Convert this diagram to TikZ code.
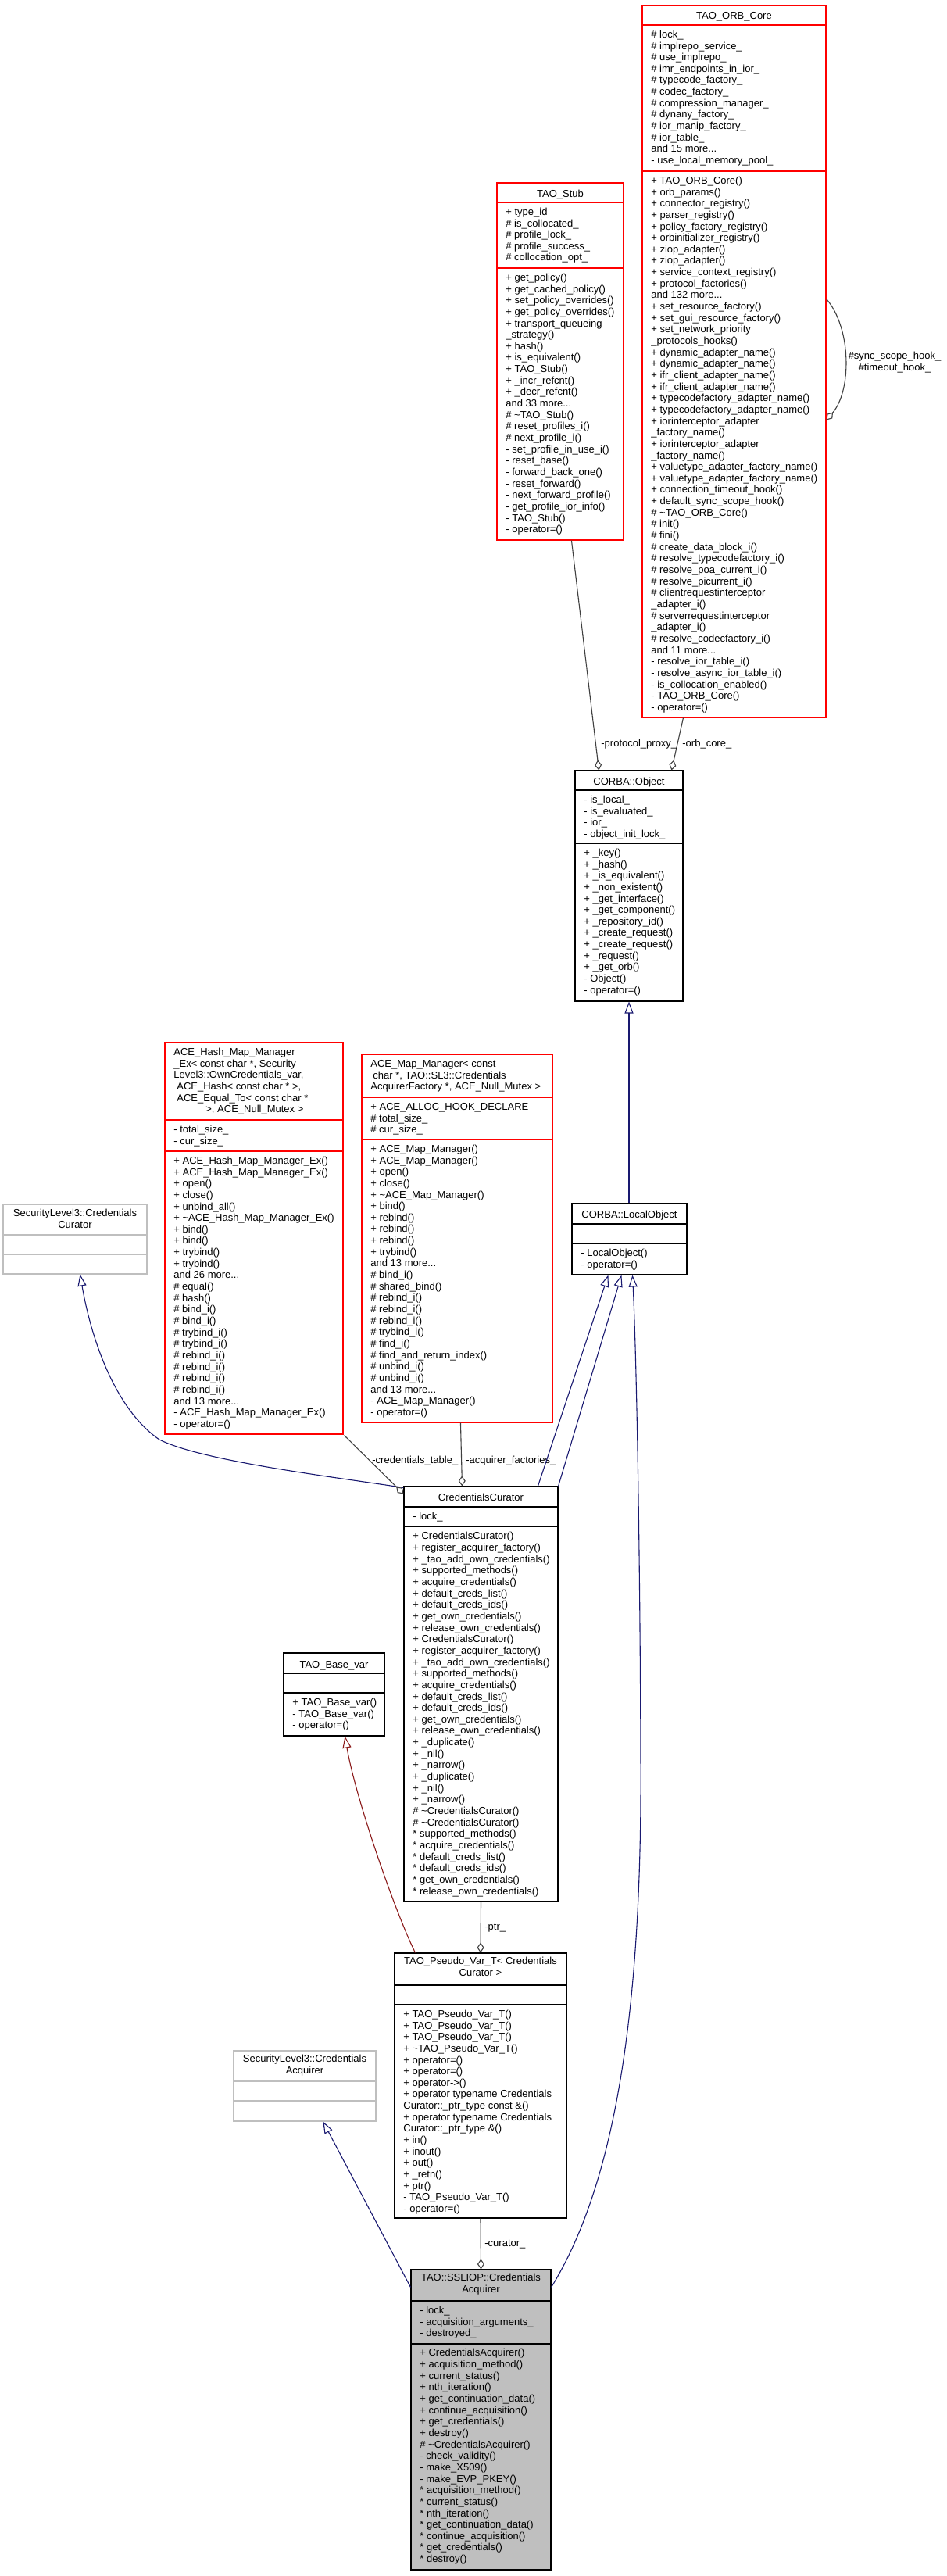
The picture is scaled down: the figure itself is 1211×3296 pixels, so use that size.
\documentclass[tikz,border=0pt]{standalone}
\usepackage{fontspec}
\setmainfont{Liberation Sans}
\usetikzlibrary{arrows.meta,calc,fit}
\definecolor{dxnavy}{HTML}{191970}
\definecolor{dxedge}{HTML}{404040}
\definecolor{dxdred}{HTML}{8B1A1A}
\definecolor{dxgrey}{HTML}{BFBFBF}
\newcommand\dfont{\fontsize{6.5}{7.325}\selectfont}
\newcommand\dxtext[4]{\node[mtxt] (#1) at (#2,{#3-10.4}) {\rule{0pt}{5.2pt}#4};}
\newcommand\dxtitle[4]{\node[ttl] (#1) at (#2,{#3-10.4}) {\rule{0pt}{5.2pt}#4};}
\newcommand\dxsep[3]{\draw[line width=0.55pt, draw=#3] (#1.west |- 0,#2) -- (#1.east |- 0,#2);}
\begin{document}
\begin{tikzpicture}[x=0.5pt,y=-0.5pt,
  cls/.style={draw, line width=0.55pt, inner sep=0pt, fill=white},
  mtxt/.style={inner sep=0pt, anchor=north west, align=left, font=\dfont},
  ttl/.style={inner sep=0pt, anchor=north, align=center, font=\dfont},
  lbl/.style={inner sep=0pt, anchor=base west, font=\dfont},
  inh/.style={draw=dxnavy, line width=0.55pt, -{Triangle[open, length=7.5pt, width=5.5pt]}},
  inhred/.style={draw=dxdred, line width=0.55pt, -{Triangle[open, length=7.5pt, width=5.5pt]}},
  use/.style={draw=dxedge, line width=0.55pt, -{Diamond[open, length=6.5pt, width=4.5pt]}}]
\fill[white] (0,0) rectangle (1211,3296);
\useasboundingbox (0,0) rectangle (1211,3296);

% ---------------- TAO_ORB_Core
\node[cls, draw=red, fit={(822,7)(1057,918)}] (orb) {};
\dxsep{orb}{32}{red}
\dxsep{orb}{219}{red}
\dxtitle{orbT}{939.5}{24}{TAO\_ORB\_Core}
\dxtext{orbA}{833}{48}{\# lock\_\\
\# implrepo\_service\_\\
\# use\_implrepo\_\\
\# imr\_endpoints\_in\_ior\_\\
\# typecode\_factory\_\\
\# codec\_factory\_\\
\# compression\_manager\_\\
\# dynany\_factory\_\\
\# ior\_manip\_factory\_\\
\# ior\_table\_\\
and 15 more...\\
- use\_local\_memory\_pool\_}
\dxtext{orbO}{833}{235}{+ TAO\_ORB\_Core()\\
+ orb\_params()\\
+ connector\_registry()\\
+ parser\_registry()\\
+ policy\_factory\_registry()\\
+ orbinitializer\_registry()\\
+ ziop\_adapter()\\
+ ziop\_adapter()\\
+ service\_context\_registry()\\
+ protocol\_factories()\\
and 132 more...\\
+ set\_resource\_factory()\\
+ set\_gui\_resource\_factory()\\
+ set\_network\_priority\\
\_protocols\_hooks()\\
+ dynamic\_adapter\_name()\\
+ dynamic\_adapter\_name()\\
+ ifr\_client\_adapter\_name()\\
+ ifr\_client\_adapter\_name()\\
+ typecodefactory\_adapter\_name()\\
+ typecodefactory\_adapter\_name()\\
+ iorinterceptor\_adapter\\
\_factory\_name()\\
+ iorinterceptor\_adapter\\
\_factory\_name()\\
+ valuetype\_adapter\_factory\_name()\\
+ valuetype\_adapter\_factory\_name()\\
+ connection\_timeout\_hook()\\
+ default\_sync\_scope\_hook()\\
\# \textasciitilde TAO\_ORB\_Core()\\
\# init()\\
\# fini()\\
\# create\_data\_block\_i()\\
\# resolve\_typecodefactory\_i()\\
\# resolve\_poa\_current\_i()\\
\# resolve\_picurrent\_i()\\
\# clientrequestinterceptor\\
\_adapter\_i()\\
\# serverrequestinterceptor\\
\_adapter\_i()\\
\# resolve\_codecfactory\_i()\\
and 11 more...\\
- resolve\_ior\_table\_i()\\
- resolve\_async\_ior\_table\_i()\\
- is\_collocation\_enabled()\\
- TAO\_ORB\_Core()\\
- operator=()}

% ---------------- TAO_Stub
\node[cls, draw=red, fit={(636,234)(798,691)}] (stub) {};
\dxsep{stub}{259}{red}
\dxsep{stub}{343}{red}
\dxtitle{stubT}{717}{252}{TAO\_Stub}
\dxtext{stubA}{647}{275}{+ type\_id\\
\# is\_collocated\_\\
\# profile\_lock\_\\
\# profile\_success\_\\
\# collocation\_opt\_}
\dxtext{stubO}{647}{359}{+ get\_policy()\\
+ get\_cached\_policy()\\
+ set\_policy\_overrides()\\
+ get\_policy\_overrides()\\
+ transport\_queueing\\
\_strategy()\\
+ hash()\\
+ is\_equivalent()\\
+ TAO\_Stub()\\
+ \_incr\_refcnt()\\
+ \_decr\_refcnt()\\
and 33 more...\\
\# \textasciitilde TAO\_Stub()\\
\# reset\_profiles\_i()\\
\# next\_profile\_i()\\
- set\_profile\_in\_use\_i()\\
- reset\_base()\\
- forward\_back\_one()\\
- reset\_forward()\\
- next\_forward\_profile()\\
- get\_profile\_ior\_info()\\
- TAO\_Stub()\\
- operator=()}

% ---------------- CORBA::Object
\node[cls, fit={(736,986)(874,1281)}] (obj) {};
\dxsep{obj}{1011}{black}
\dxsep{obj}{1079}{black}
\dxtitle{objT}{805}{1004}{CORBA::Object}
\dxtext{objA}{747}{1027}{- is\_local\_\\
- is\_evaluated\_\\
- ior\_\\
- object\_init\_lock\_}
\dxtext{objO}{747}{1095}{+ \_key()\\
+ \_hash()\\
+ \_is\_equivalent()\\
+ \_non\_existent()\\
+ \_get\_interface()\\
+ \_get\_component()\\
+ \_repository\_id()\\
+ \_create\_request()\\
+ \_create\_request()\\
+ \_request()\\
+ \_get\_orb()\\
- Object()\\
- operator=()}

% ---------------- CORBA::LocalObject
\node[cls, fit={(732,1540)(879,1631)}] (loc) {};
\dxsep{loc}{1566}{black}
\dxsep{loc}{1591}{black}
\dxtitle{locT}{805.5}{1558}{CORBA::LocalObject}
\dxtext{locO}{743}{1607}{- LocalObject()\\
- operator=()}

% ---------------- ACE_Hash_Map_Manager_Ex
\node[cls, draw=red, fit={(211,1334)(439,1835)}] (hash) {};
\dxsep{hash}{1433}{red}
\dxsep{hash}{1473}{red}
\dxtext{hashT}{222}{1350}{ACE\_Hash\_Map\_Manager\\
\_Ex< const char *, Security\\
Level3::OwnCredentials\_var,\\
\hspace*{2pt}ACE\_Hash< const char * >,\\
\hspace*{2pt}ACE\_Equal\_To< const char *\\
\hspace*{20.5pt}>, ACE\_Null\_Mutex >}
\dxtext{hashA}{222}{1449}{- total\_size\_\\
- cur\_size\_}
\dxtext{hashO}{222}{1489}{+ ACE\_Hash\_Map\_Manager\_Ex()\\
+ ACE\_Hash\_Map\_Manager\_Ex()\\
+ open()\\
+ close()\\
+ unbind\_all()\\
+ \textasciitilde ACE\_Hash\_Map\_Manager\_Ex()\\
+ bind()\\
+ bind()\\
+ trybind()\\
+ trybind()\\
and 26 more...\\
\# equal()\\
\# hash()\\
\# bind\_i()\\
\# bind\_i()\\
\# trybind\_i()\\
\# trybind\_i()\\
\# rebind\_i()\\
\# rebind\_i()\\
\# rebind\_i()\\
\# rebind\_i()\\
and 13 more...\\
- ACE\_Hash\_Map\_Manager\_Ex()\\
- operator=()}

% ---------------- ACE_Map_Manager
\node[cls, draw=red, fit={(463,1349)(707,1820)}] (map) {};
\dxsep{map}{1404}{red}
\dxsep{map}{1458}{red}
\dxtext{mapT}{474}{1365}{ACE\_Map\_Manager< const\\
\hspace*{1.5pt}char *, TAO::SL3::Credentials\\
AcquirerFactory *, ACE\_Null\_Mutex >}
\dxtext{mapA}{474}{1420}{+ ACE\_ALLOC\_HOOK\_DECLARE\\
\# total\_size\_\\
\# cur\_size\_}
\dxtext{mapO}{474}{1474}{+ ACE\_Map\_Manager()\\
+ ACE\_Map\_Manager()\\
+ open()\\
+ close()\\
+ \textasciitilde ACE\_Map\_Manager()\\
+ bind()\\
+ rebind()\\
+ rebind()\\
+ rebind()\\
+ trybind()\\
and 13 more...\\
\# bind\_i()\\
\# shared\_bind()\\
\# rebind\_i()\\
\# rebind\_i()\\
\# rebind\_i()\\
\# trybind\_i()\\
\# find\_i()\\
\# find\_and\_return\_index()\\
\# unbind\_i()\\
\# unbind\_i()\\
and 13 more...\\
- ACE\_Map\_Manager()\\
- operator=()}

% ---------------- SecurityLevel3::CredentialsCurator
\node[cls, draw=dxgrey, fit={(4,1541)(188,1630)}] (slc) {};
\dxsep{slc}{1580}{dxgrey}
\dxsep{slc}{1605}{dxgrey}
\dxtitle{slcT}{96}{1556}{SecurityLevel3::Credentials\\Curator}

% ---------------- CredentialsCurator
\node[cls, fit={(517,1902)(714,2433)}] (cc) {};
\dxsep{cc}{1928}{black}
\dxsep{cc}{1953.5}{black}
\dxtitle{ccT}{615.5}{1920}{CredentialsCurator}
\dxtext{ccA}{528}{1944}{- lock\_}
\dxtext{ccO}{528}{1969.5}{+ CredentialsCurator()\\
+ register\_acquirer\_factory()\\
+ \_tao\_add\_own\_credentials()\\
+ supported\_methods()\\
+ acquire\_credentials()\\
+ default\_creds\_list()\\
+ default\_creds\_ids()\\
+ get\_own\_credentials()\\
+ release\_own\_credentials()\\
+ CredentialsCurator()\\
+ register\_acquirer\_factory()\\
+ \_tao\_add\_own\_credentials()\\
+ supported\_methods()\\
+ acquire\_credentials()\\
+ default\_creds\_list()\\
+ default\_creds\_ids()\\
+ get\_own\_credentials()\\
+ release\_own\_credentials()\\
+ \_duplicate()\\
+ \_nil()\\
+ \_narrow()\\
+ \_duplicate()\\
+ \_nil()\\
+ \_narrow()\\
\# \textasciitilde CredentialsCurator()\\
\# \textasciitilde CredentialsCurator()\\
{*} supported\_methods()\\
{*} acquire\_credentials()\\
{*} default\_creds\_list()\\
{*} default\_creds\_ids()\\
{*} get\_own\_credentials()\\
{*} release\_own\_credentials()}

% ---------------- TAO_Base_var
\node[cls, fit={(363,2115)(492,2221)}] (bv) {};
\dxsep{bv}{2141}{black}
\dxsep{bv}{2166}{black}
\dxtitle{bvT}{427.5}{2134}{TAO\_Base\_var}
\dxtext{bvO}{374}{2182}{+ TAO\_Base\_var()\\
- TAO\_Base\_var()\\
- operator=()}

% ---------------- TAO_Pseudo_Var_T
\node[cls, fit={(505,2499)(725,2838)}] (pv) {};
\dxsep{pv}{2540}{black}
\dxsep{pv}{2565}{black}
\dxtitle{pvT}{615}{2513}{TAO\_Pseudo\_Var\_T< Credentials\\Curator >}
\dxtext{pvO}{516}{2581}{+ TAO\_Pseudo\_Var\_T()\\
+ TAO\_Pseudo\_Var\_T()\\
+ TAO\_Pseudo\_Var\_T()\\
+ \textasciitilde TAO\_Pseudo\_Var\_T()\\
+ operator=()\\
+ operator=()\\
+ operator->()\\
+ operator typename Credentials\\
Curator::\_ptr\_type const \&()\\
+ operator typename Credentials\\
Curator::\_ptr\_type \&()\\
+ in()\\
+ inout()\\
+ out()\\
+ \_retn()\\
+ ptr()\\
- TAO\_Pseudo\_Var\_T()\\
- operator=()}

% ---------------- SecurityLevel3::CredentialsAcquirer
\node[cls, draw=dxgrey, fit={(299,2624)(481,2714)}] (acq) {};
\dxsep{acq}{2663}{dxgrey}
\dxsep{acq}{2688}{dxgrey}
\dxtitle{acqT}{390}{2638}{SecurityLevel3::Credentials\\Acquirer}

% ---------------- TAO::SSLIOP::CredentialsAcquirer
\node[cls, fill=dxgrey, fit={(526,2904)(705,3288)}] (ssl) {};
\dxsep{ssl}{2944}{black}
\dxsep{ssl}{2999}{black}
\dxtitle{sslT}{615.5}{2918}{TAO::SSLIOP::Credentials\\Acquirer}
\dxtext{sslA}{537}{2960}{- lock\_\\
- acquisition\_arguments\_\\
- destroyed\_}
\dxtext{sslO}{537}{3014.5}{+ CredentialsAcquirer()\\
+ acquisition\_method()\\
+ current\_status()\\
+ nth\_iteration()\\
+ get\_continuation\_data()\\
+ continue\_acquisition()\\
+ get\_credentials()\\
+ destroy()\\
\# \textasciitilde CredentialsAcquirer()\\
- check\_validity()\\
- make\_X509()\\
- make\_EVP\_PKEY()\\
{*} acquisition\_method()\\
{*} current\_status()\\
{*} nth\_iteration()\\
{*} get\_continuation\_data()\\
{*} continue\_acquisition()\\
{*} get\_credentials()\\
{*} destroy()}

% ---------------- connectors
\draw[use] ($(orb.north east)+(0,376)$) .. controls (1090,420) and (1090,500) .. ($(orb.north east)+(0,531)$);
\node[inner sep=0pt, anchor=north, align=center, font=\dfont] (lhook) at (1145,{459-10.4}) {\rule{0pt}{5.2pt}\#sync\_scope\_hook\_\\\#timeout\_hook\_};

\draw[use] ($(orb.south west)+(53,0)$) -- ($(obj.north west)+(124,0)$);
\node[lbl] (lorb) at (873,955) {-orb\_core\_};
\draw[use] ($(stub.south west)+(96,0)$) -- ($(obj.north west)+(31,0)$);
\node[lbl] (lpp) at (769,955) {-protocol\_proxy\_};

\draw[inh] (loc.north -| obj.south) -- (obj.south);

\draw[inh] ($(cc.north west)+(0,2)$) .. controls (430,1890) and (260,1870) .. (204,1842) .. controls (150,1805) and (118,1720) .. ($(slc.south west)+(99,0)$);

\draw[use] ($(hash.south east)+(1,1)$) -- ($(cc.north west)+(0,10)$);
\node[lbl] (lct) at (476,1872) {-credentials\_table\_};
\draw[use] ($(map.south west)+(127,0)$) -- ($(cc.north west)+(75,0)$);
\node[lbl] (laf) at (596,1872) {-acquirer\_factories\_};

\draw[inh] ($(cc.north west)+(172,0)$) -- ($(loc.south west)+(47,0)$);
\draw[inh] (cc.north east) -- ($(loc.south west)+(64,0)$);
\draw[inh] ($(ssl.north east)+(0,23)$) .. controls (790,2790) and (822,2560) .. (820,2250) .. controls (819,1950) and (814,1720) .. ($(loc.south west)+(78,0)$);

\draw[inhred] ($(pv.north west)+(27,0)$) .. controls (505,2445) and (455,2300) .. ($(bv.south west)+(79,0)$);

\draw[use] (cc.south) -- (pv.north);
\node[lbl] (lptr) at (620,2469) {-ptr\_};
\draw[use] (pv.south) -- (ssl.north);
\node[lbl] (lcur) at (620,2874) {-curator\_};

\draw[inh] ($(ssl.north west)+(0,23)$) -- ($(acq.south west)+(115,0)$);
\end{tikzpicture}
\end{document}
